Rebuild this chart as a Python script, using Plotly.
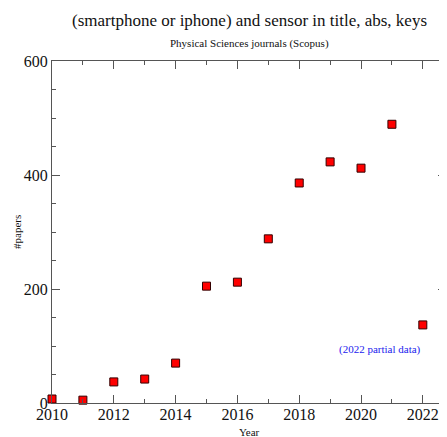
import plotly.graph_objects as go

years = [2010, 2011, 2012, 2013, 2014, 2015, 2016, 2017, 2018, 2019, 2020, 2021, 2022]
papers = [7, 5, 37, 42, 70, 205, 212, 288, 386, 423, 412, 489, 137]

title_text = "(smartphone or iphone) and sensor in title, abs, keys"
subtitle_text = "Physical Sciences journals (Scopus)"
note_text = "(2022 partial data)"
x_title = "Year"
y_title = "#papers"
x_ticks = [2010, 2012, 2014, 2016, 2018, 2020, 2022]
y_ticks = [0, 200, 400, 600]

FONT = "Liberation Serif, Times New Roman, serif"
AXC = "#555555"
TXT = "#111111"

fig = go.Figure()
fig.add_trace(go.Scatter(
    x=years, y=papers, mode="markers",
    marker=dict(symbol="square", size=8, color="#ff0000",
                line=dict(color="#330000", width=1)),
    cliponaxis=False, showlegend=False,
))

fig.add_annotation(x=2022, y=93, xref="x", yref="y", text=note_text,
                   showarrow=False, xanchor="right", yanchor="middle",
                   font=dict(family=FONT, size=11, color="#2222ee"))

fig.add_annotation(x=0.5, y=1, xref="paper", yref="paper", yshift=41,
                   text=title_text, showarrow=False, xanchor="center", yanchor="middle",
                   font=dict(family=FONT, size=17, color=TXT))
fig.add_annotation(x=0.5, y=1, xref="paper", yref="paper", yshift=18,
                   text=subtitle_text, showarrow=False, xanchor="center", yanchor="middle",
                   font=dict(family=FONT, size=11, color=TXT))
fig.add_annotation(x=0.5, y=0, xref="paper", yref="paper", yshift=-29,
                   text=x_title, showarrow=False, xanchor="center", yanchor="middle",
                   font=dict(family=FONT, size=11, color=TXT))
fig.add_annotation(x=0, y=0.5, xref="paper", yref="paper", xshift=-35,
                   text=y_title, showarrow=False, xanchor="center", yanchor="middle",
                   textangle=-90, font=dict(family=FONT, size=11, color=TXT))

axis_common = dict(
    showgrid=False, zeroline=False, showline=True, linecolor=AXC, linewidth=1,
    ticks="inside", ticklen=8, tickcolor=AXC, tickwidth=1, mirror="allticks",
    tickfont=dict(family=FONT, size=16, color=TXT), automargin=False,
)

fig.update_xaxes(range=[2010, 2022.75], tickvals=x_ticks,
                 ticktext=[str(v) for v in x_ticks],
                 minor=dict(dtick=1, ticks="inside", ticklen=4, tickcolor=AXC, showgrid=False),
                 ticklabelstandoff=-3,
                 **axis_common)
fig.update_yaxes(range=[0, 600], tickvals=y_ticks,
                 ticktext=[str(v) for v in y_ticks],
                 minor=dict(dtick=50, ticks="inside", ticklen=4, tickcolor=AXC, showgrid=False),
                 ticklabelstandoff=0,
                 **axis_common)

# page body has an 8px default margin, so the figure is sized to the visible area
fig.update_layout(
    width=439, height=429,
    margin=dict(l=44, r=1, t=53, b=34),
    plot_bgcolor="white", paper_bgcolor="white",
    font=dict(family=FONT),
)

fig.write_html("out.html")
